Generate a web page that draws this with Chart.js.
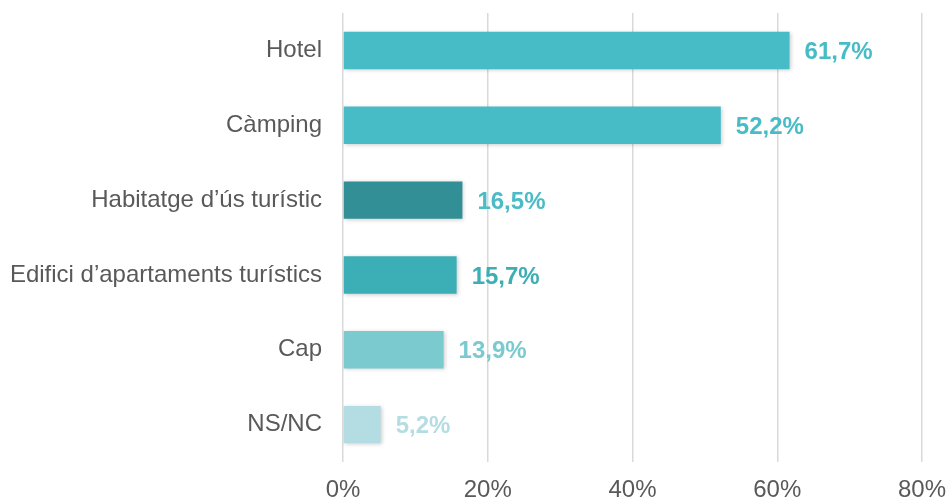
<!DOCTYPE html>
<html>
<head>
<meta charset="utf-8">
<script src="https://cdn.jsdelivr.net/npm/chart.js@4/dist/chart.umd.min.js"></script>
<style>
  html, body { margin: 0; padding: 0; background: #fff; }
  #wrap { width: 949px; height: 499px; }
</style>
</head>
<body>
<div id="wrap"><canvas id="chart" width="949" height="499"></canvas></div>
<script>
const categories = ['Hotel', 'Càmping', 'Habitatge d’ús turístic', 'Edifici d’apartaments turístics', 'Cap', 'NS/NC'];
const values = [61.7, 52.2, 16.5, 15.7, 13.9, 5.2];
const barColors = ['#48bcc6', '#48bcc6', '#338f96', '#3caeb5', '#7acad0', '#b3dde2'];
const labelColors = ['#48bcc6', '#48bcc6', '#4bbcc6', '#3caeb5', '#7acad0', '#b3dde2'];
const xTicks = [0, 20, 40, 60, 80];

const fontFamily = '"Liberation Sans", Arial, sans-serif';

const barShadow = {
    id: 'barShadow',
    beforeDatasetsDraw(chart) {
        const ctx = chart.ctx;
        ctx.save();
        ctx.shadowColor = 'rgba(0,0,0,0.2)';
        ctx.shadowBlur = 4;
        ctx.shadowOffsetX = 1;
        ctx.shadowOffsetY = 1;
    },
    afterDatasetsDraw(chart) {
        chart.ctx.restore();
    }
};

const valueLabels = {
    id: 'valueLabels',
    afterDraw(chart) {
        const ctx = chart.ctx;
        const meta = chart.getDatasetMeta(0);
        ctx.save();
        ctx.font = 'bold 24px ' + fontFamily;
        ctx.textAlign = 'left';
        ctx.textBaseline = 'middle';
        meta.data.forEach((bar, i) => {
            ctx.fillStyle = labelColors[i];
            ctx.fillText(values[i].toFixed(1).replace('.', ',') + '%', bar.x + 15, bar.y + 2);
        });
        ctx.restore();
    }
};

new Chart(document.getElementById('chart'), {
    type: 'bar',
    data: {
        labels: categories,
        datasets: [{
            data: values,
            backgroundColor: barColors,
            borderWidth: 0,
            barPercentage: 0.5,
            categoryPercentage: 1.0
        }]
    },
    options: {
        indexAxis: 'y',
        responsive: false,
        animation: false,
        layout: { padding: { top: 13, right: 27, left: 0, bottom: 0 } },
        plugins: {
            legend: { display: false },
            tooltip: { enabled: false }
        },
        scales: {
            x: {
                min: 0,
                max: 80,
                afterBuildTicks(scale) {
                    scale.ticks = xTicks.map(v => ({ value: v }));
                },
                afterFit(scale) {
                    scale.height = 37;
                    scale.paddingLeft = 0;
                    scale.paddingRight = 0;
                },
                grid: { color: '#d9d9d9', lineWidth: 1.5, drawTicks: false },
                border: { display: false },
                ticks: {
                    padding: 14,
                    color: '#595959',
                    font: { family: fontFamily, size: 24 },
                    callback: v => v + '%'
                }
            },
            y: {
                afterFit(scale) {
                    scale.width = 343;
                    scale.paddingTop = 0;
                    scale.paddingBottom = 0;
                },
                grid: { display: false, drawTicks: false },
                border: { display: false },
                ticks: {
                    padding: 21,
                    color: '#595959',
                    font: { family: fontFamily, size: 24 }
                }
            }
        }
    },
    plugins: [barShadow, valueLabels]
});
</script>
</body>
</html>
